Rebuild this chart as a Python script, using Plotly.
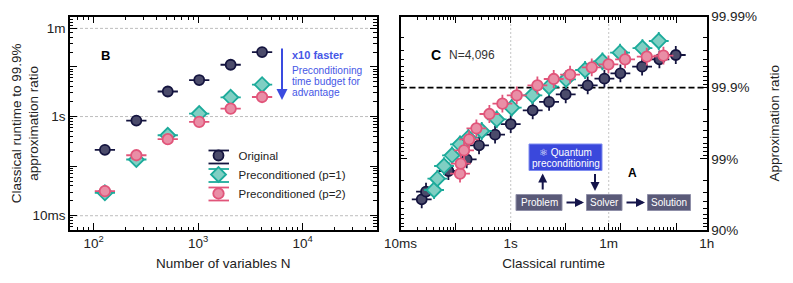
import plotly.graph_objects as go

W, H = 793, 283
FONT = "Liberation Sans"

# Panel B: runtime (s) to reach 99.9 % vs. number of variables
n_vars = [128, 256, 512, 1024, 2048, 4096]
b_original = [0.213, 0.83, 3.2, 5.45, 11.1, 20.0]
b_precond_p1 = [0.029, 0.136, 0.42, 1.15, 2.44, 4.4]
b_precond_p2 = [0.0314, 0.166, 0.349, 0.78, 1.45, 2.48]

# Panel C: log10(runtime / s) and "nines" = -log10(1 - approximation ratio)
c_original_logt = [-1.615, -1.537, -1.131, -0.799, -0.575, -0.284, 0.0, 0.399, 0.696, 0.998, 1.397, 1.700, 1.990, 2.384, 2.698, 2.995]
c_original_nines = [1.431, 1.539, 1.829, 1.993, 2.190, 2.340, 2.489, 2.681, 2.799, 2.906, 3.033, 3.126, 3.201, 3.295, 3.398, 3.459]
c_p1_logt = [-1.391, -1.331, -1.210, -1.065, -0.920, -0.768, -0.526, -0.254, 0.018, 0.393, 0.696, 1.004, 1.349, 1.664, 1.984, 2.390, 2.686]
c_p1_nines = [1.562, 1.721, 1.899, 2.049, 2.204, 2.297, 2.391, 2.555, 2.719, 2.892, 3.014, 3.117, 3.248, 3.370, 3.492, 3.557, 3.656]
c_p2_logt = [-0.920, -0.907, -0.847, -0.756, -0.623, -0.387, -0.151, 0.109, 0.484, 0.780, 1.077, 1.470, 1.773, 2.075, 2.468, 2.771]
c_p2_nines = [1.792, 1.932, 2.119, 2.274, 2.429, 2.630, 2.775, 2.892, 3.033, 3.122, 3.183, 3.286, 3.328, 3.398, 3.436, 3.450]

series_names = ["Original", "Preconditioned (p=1)", "Preconditioned (p=2)"]
DARK = ("#4b4b6b", "#14143f")
TEAL = ("#80cfc3", "#1dab9b")
PINK = ("#e98ea6", "#e1557a")
styles = [("circle", 10, DARK), ("diamond", 11.5, TEAL), ("circle", 10.5, PINK)]


def px_x(p):
    return p / W


def px_y(p):
    return 1 - p / H


def err(vals, half_decades):
    f = 10 ** half_decades
    return dict(type="data", symmetric=False, array=[v * (f - 1) for v in vals],
                arrayminus=[v * (1 - 1 / f) for v in vals], width=0, thickness=1.8)


def marker(style):
    sym, size, (fill, edge) = style
    return dict(symbol=sym, size=size, color=fill, line=dict(color=edge, width=1.8))


fig = go.Figure()

# Panel B
for name, vals, st in zip(series_names, [b_original, b_precond_p1, b_precond_p2], styles):
    ex = err(n_vars, 0.097)
    ex["color"] = st[2][1]
    fig.add_trace(go.Scatter(x=n_vars, y=vals, mode="markers", name=name, marker=marker(st),
                             error_x=ex, xaxis="x", yaxis="y"))

# Panel C
for name, lx, ly, st in zip(series_names,
                            [c_original_logt, c_p1_logt, c_p2_logt],
                            [c_original_nines, c_p1_nines, c_p2_nines], styles):
    t = [10 ** v for v in lx]
    gap = [10 ** (-v) for v in ly]
    ex = err(t, 0.18)
    ey = err(gap, 0.125)
    ex["color"] = ey["color"] = st[2][1]
    fig.add_trace(go.Scatter(x=t, y=gap, mode="markers", name=name, marker=marker(st),
                             error_x=ex, error_y=ey, xaxis="x2", yaxis="y2", showlegend=False))


def minors(lo, hi):
    return [m * 10.0 ** e for e in range(lo, hi) for m in range(2, 10)]


def axis(domain, rng, majors, labels, minor_vals, **kw):
    return dict(type="log", domain=domain, range=rng, tickmode="array", tickvals=majors, ticktext=labels,
                ticks="inside", ticklen=7, tickwidth=1, tickcolor="#000", automargin=False,
                minor=dict(tickmode="array", tickvals=minor_vals, ticks="inside", ticklen=3.5,
                           tickwidth=1, tickcolor="#000", showgrid=False),
                showgrid=False, zeroline=False, showline=True, linecolor="#000", linewidth=1.6,
                mirror="allticks", tickfont=dict(size=13.5, color="#222"), **kw)


LX0, LX1, RX0, RX1 = 70, 376.5, 400.5, 706.7
Y0, Y1 = 16.5, 230
ydom = [px_y(Y1), px_y(Y0)]
title_font = dict(size=13.5, color="#222")

fig.update_layout(
    width=W, height=H, autosize=False, margin=dict(l=0, r=0, t=0, b=0),
    paper_bgcolor="white", plot_bgcolor="white", font=dict(family=FONT, color="#222"),
    xaxis=axis([px_x(LX0), px_x(LX1)], [1.773, 4.708], [100, 1000, 10000],
               ["10<sup>2</sup>", "10<sup>3</sup>", "10<sup>4</sup>"], minors(1, 5), anchor="y",
               title=dict(text="Number of variables N", font=title_font, standoff=9)),
    yaxis=axis(ydom, [-2.288, 2.018], [0.01, 0.1, 1, 10, 60, 100],
               ["10ms", "", "1s", "", "1m", ""], minors(-3, 2), anchor="x"),
    xaxis2=axis([px_x(RX0), px_x(RX1)], [-2, 3.556], [0.01, 0.1, 1, 10, 60, 100, 1000, 3600],
                ["10ms", "", "1s", "", "1m", "", "", "1h"], minors(-2, 3), anchor="y2",
                title=dict(text="Classical runtime", font=title_font, standoff=9)),
    yaxis2=axis(ydom, [-1, -4], [0.1, 0.01, 0.001, 0.0001], ["90%", "99%", "99.9%", "99.99%"],
                minors(-4, -1), anchor="x2", side="right",
                title=dict(text="Approximation ratio", font=title_font, standoff=14)),
    legend=dict(x=px_x(198.5), y=px_y(141), xanchor="left", yanchor="top", bgcolor="rgba(0,0,0,0)",
                font=dict(size=11.5, color="#222"), itemclick=False, itemdoubleclick=False),
)

shapes = []
# reference lines
for v in [0.01, 1, 60]:
    shapes.append(dict(type="line", xref="x domain", x0=0, x1=1, yref="y", y0=v, y1=v, layer="below",
                       line=dict(color="#bdbdbd", width=1, dash="3px,2px")))
for v in [1, 60]:
    shapes.append(dict(type="line", yref="y2 domain", y0=0, y1=1, xref="x2", x0=v, x1=v, layer="below",
                       line=dict(color="#c4c4c4", width=1, dash="2px,2px")))
shapes.append(dict(type="line", xref="x2 domain", x0=0, x1=1, yref="y2", y0=0.001, y1=0.001, layer="below",
                   line=dict(color="#000", width=1.6, dash="6px,3px")))


def box(x0, x1, y0, y1, color, edge):
    shapes.append(dict(type="rect", xref="paper", yref="paper", x0=px_x(x0), x1=px_x(x1), y0=px_y(y1), y1=px_y(y0),
                       fillcolor=color, line=dict(color=edge, width=1), layer="above"))


box(529, 602, 144, 170.5, "#3a48dc", "#7f8cf0")
box(516, 562, 194.5, 210.5, "#5a5a78", "#8f8fa8")
box(586.5, 622, 194.5, 210.5, "#5a5a78", "#8f8fa8")
box(647.5, 690.5, 194.5, 210.5, "#5a5a78", "#8f8fa8")

# legend key end bars
for cy, col in [(157, DARK[1]), (175.5, TEAL[1]), (194, PINK[1])]:
    for d in (-6.5, 6.5):
        shapes.append(dict(type="line", xref="paper", yref="paper", x0=px_x(208.5), x1=px_x(229),
                           y0=px_y(cy + d), y1=px_y(cy + d), line=dict(color=col, width=1.8), layer="above"))
fig.update_layout(shapes=shapes)


def label(x, y, text, size=11, color="#222", bold=False, anchor="center", angle=0):
    fig.add_annotation(xref="paper", yref="paper", x=px_x(x), y=px_y(y), text=f"<b>{text}</b>" if bold else text,
                       showarrow=False, xanchor=anchor, yanchor="middle", textangle=angle,
                       font=dict(size=size, color=color, family=FONT))


def arrow(x0, y0, x1, y1, color="#15154a", size=0.9):
    fig.add_annotation(xref="paper", yref="paper", x=px_x(x1), y=px_y(y1), axref="pixel", ayref="pixel",
                       ax=x0 - x1, ay=y0 - y1, text="", showarrow=True, arrowhead=2, arrowsize=size,
                       arrowwidth=2, arrowcolor=color)


label(25.5, 123.7, "Classical runtime to 99.9%<br>approximation ratio", size=13.5, angle=-90)

label(105.5, 55, "B", size=13, color="#000", bold=True)
label(436, 55, "C", size=14, color="#000", bold=True)
label(446.5, 55, "N=4,096", size=12, color="#333", anchor="left")
label(632.5, 172.5, "A", size=12, color="#000", bold=True)

BLUE = "#4657e6"
arrow(282, 47, 282, 100, "#3a4be0", 1.1)
label(290, 55, "x10 faster", size=11, color=BLUE, bold=True, anchor="left")
label(290, 70, "Preconditioning", size=10.2, color=BLUE, anchor="left")
label(290, 81, "time budget for", size=10.2, color=BLUE, anchor="left")
label(290, 92, "advantage", size=10.2, color=BLUE, anchor="left")

label(565.5, 152, "⚛ Quantum", size=10, color="#fff")
label(565.5, 163.5, "preconditioning", size=10, color="#fff")
label(539, 202.5, "Problem", size=10, color="#fff")
label(604.2, 202.5, "Solver", size=10, color="#fff")
label(669, 202.5, "Solution", size=10, color="#fff")

arrow(565, 202.5, 584, 202.5)
arrow(625, 202.5, 645, 202.5)
arrow(542.7, 191, 542.7, 173.5)
arrow(595, 172.5, 595, 191)

fig.write_html("out.html", config=dict(displayModeBar=False),
               post_script="document.body.style.margin='0';document.body.style.overflow='hidden';")
